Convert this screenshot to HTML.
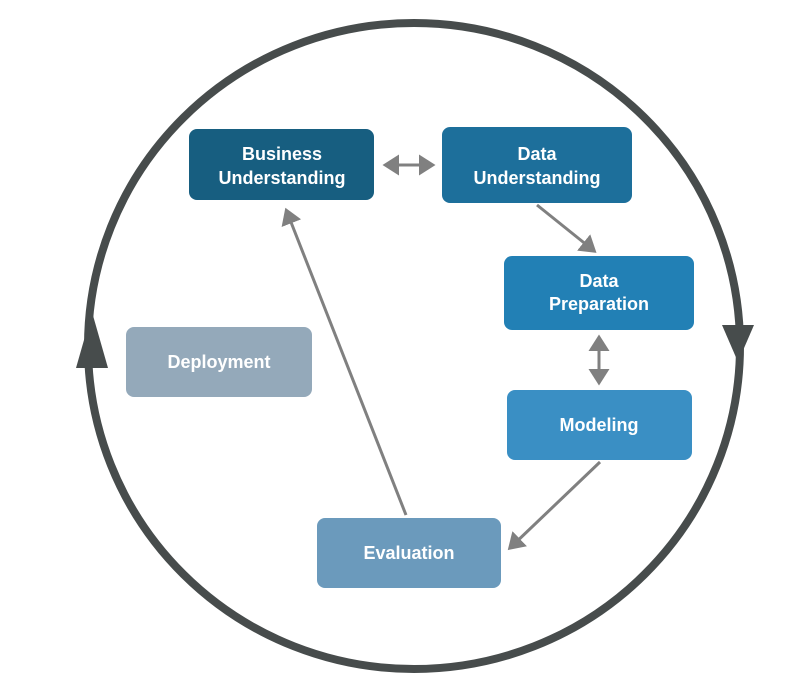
<!DOCTYPE html>
<html><head><style>
body{margin:0;background:#fff;width:810px;height:692px;overflow:hidden}
svg{display:block}
text{font-family:"Liberation Sans",sans-serif;font-weight:bold;fill:#fff;font-size:18px;text-anchor:middle}
</style></head><body>
<svg width="810" height="692" viewBox="0 0 810 692">
<defs>
<marker id="a" markerWidth="7" markerHeight="7" refX="4" refY="3.5" orient="auto" markerUnits="strokeWidth"><path d="M0,0 L5.5,3.5 L0,7 z" fill="#808080"/></marker>
<marker id="as" markerWidth="7" markerHeight="7" refX="1.5" refY="3.5" orient="auto" markerUnits="strokeWidth"><path d="M5.5,0 L0,3.5 L5.5,7 z" fill="#808080"/></marker>
</defs>
<ellipse cx="414" cy="346" rx="326" ry="323" fill="none" stroke="#474c4c" stroke-width="8"/>
<path d="M92,312 L76,368 L108,368 z" fill="#474c4c"/>
<path d="M738,362 L722,325 L754,325 z" fill="#474c4c"/>
<g stroke="#808080" stroke-width="3" fill="none">
<line x1="387" y1="165" x2="431" y2="165" marker-end="url(#a)" marker-start="url(#as)"/>
<line x1="537" y1="205" x2="593" y2="250" marker-end="url(#a)"/>
<line x1="599" y1="339" x2="599" y2="381" marker-end="url(#a)" marker-start="url(#as)"/>
<line x1="600" y1="462" x2="511" y2="547" marker-end="url(#a)"/>
<line x1="406" y1="515" x2="287" y2="212" marker-end="url(#a)"/>
</g>
<rect x="189" y="129" width="185" height="71" rx="8" fill="#175e80"/>
<text x="282" y="160">Business</text><text x="282" y="184">Understanding</text>
<rect x="442" y="127" width="190" height="76" rx="8" fill="#1d6f9b"/>
<text x="537" y="160">Data</text><text x="537" y="184">Understanding</text>
<rect x="504" y="256" width="190" height="74" rx="8" fill="#2280b5"/>
<text x="599" y="287">Data</text><text x="599" y="310">Preparation</text>
<rect x="507" y="390" width="185" height="70" rx="8" fill="#3a8fc4"/>
<text x="599" y="431">Modeling</text>
<rect x="317" y="518" width="184" height="70" rx="8" fill="#6b9abc"/>
<text x="409" y="559">Evaluation</text>
<rect x="126" y="327" width="186" height="70" rx="8" fill="#94a9ba"/>
<text x="219" y="368">Deployment</text>
</svg>
</body></html>
